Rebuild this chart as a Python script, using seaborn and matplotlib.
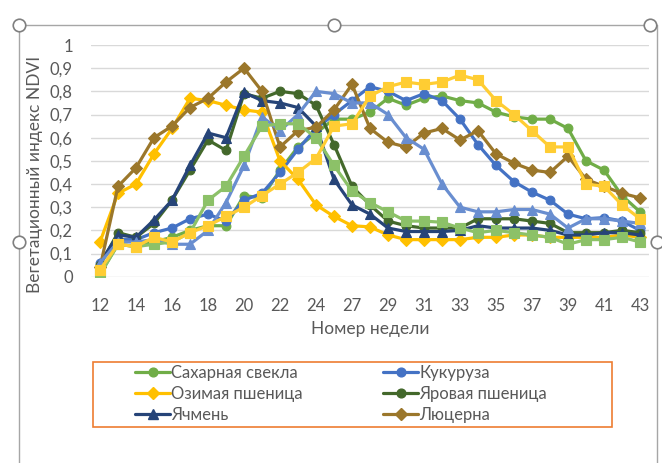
import matplotlib
matplotlib.use("Agg")
import matplotlib.pyplot as plt
import matplotlib.patches as mpatches
from matplotlib.lines import Line2D
import seaborn as sns
import pandas as pd

weeks = [12, 13, 14, 15, 16, 17, 18, 19, 20, 21, 22, 23, 24, 25, 27, 28, 29, 30,
         31, 32, 33, 34, 35, 36, 37, 38, 39, 40, 41, 42, 43]

sugar_beet = [0.01, 0.14, 0.13, 0.15, 0.17, 0.20, 0.22, 0.22, 0.35, 0.34, 0.46, 0.56, 0.62, 0.68, 0.68, 0.71,
              0.77, 0.74, 0.77, 0.78, 0.76, 0.75, 0.71, 0.69, 0.68, 0.68, 0.64, 0.50, 0.46, 0.35, 0.28]
corn = [0.06, 0.16, 0.16, 0.19, 0.21, 0.25, 0.27, 0.24, 0.33, 0.36, 0.45, 0.55, 0.64, 0.70, 0.76, 0.82,
        0.80, 0.76, 0.79, 0.76, 0.68, 0.57, 0.48, 0.41, 0.365, 0.33, 0.27, 0.25, 0.255, 0.24, 0.20]
winter_wheat = [0.15, 0.36, 0.40, 0.53, 0.64, 0.77, 0.76, 0.74, 0.72, 0.71, 0.50, 0.42, 0.31, 0.26, 0.22, 0.215,
                0.18, 0.16, 0.16, 0.16, 0.16, 0.17, 0.17, 0.18, 0.18, 0.17, 0.17, 0.17, 0.17, 0.18, 0.17]
spring_wheat = [0.05, 0.19, 0.17, 0.23, 0.33, 0.46, 0.59, 0.545, 0.79, 0.77, 0.80, 0.79, 0.74, 0.57, 0.39, 0.31,
                0.24, 0.22, 0.21, 0.21, 0.21, 0.25, 0.25, 0.25, 0.24, 0.23, 0.19, 0.19, 0.19, 0.20, 0.19]
barley = [0.06, 0.18, 0.17, 0.245, 0.33, 0.48, 0.62, 0.60, 0.795, 0.76, 0.75, 0.73, 0.65, 0.42, 0.31, 0.27,
          0.21, 0.195, 0.195, 0.195, 0.20, 0.22, 0.21, 0.21, 0.21, 0.20, 0.18, 0.18, 0.19, 0.19, 0.18]
alfalfa = [0.04, 0.39, 0.47, 0.60, 0.65, 0.73, 0.77, 0.84, 0.90, 0.80, 0.56, 0.63, 0.645, 0.72, 0.83, 0.64,
           0.58, 0.56, 0.62, 0.64, 0.59, 0.63, 0.53, 0.49, 0.46, 0.45, 0.52, 0.42, 0.39, 0.36, 0.34]
series7 = [0.06, 0.15, 0.15, 0.16, 0.14, 0.14, 0.20, 0.32, 0.48, 0.69, 0.63, 0.70, 0.80, 0.79, 0.75, 0.75,
           0.70, 0.60, 0.55, 0.40, 0.30, 0.28, 0.28, 0.29, 0.29, 0.27, 0.21, 0.25, 0.25, 0.24, 0.23]
series8 = [0.01, 0.14, 0.13, 0.14, 0.15, 0.19, 0.33, 0.39, 0.52, 0.65, 0.66, 0.66, 0.60, 0.48, 0.37, 0.32,
           0.28, 0.24, 0.24, 0.235, 0.21, 0.19, 0.20, 0.19, 0.18, 0.17, 0.14, 0.16, 0.16, 0.17, 0.15]
series9 = [0.03, 0.14, 0.13, 0.17, 0.15, 0.19, 0.22, 0.26, 0.30, 0.35, 0.40, 0.45, 0.51, 0.65, 0.66, 0.78,
           0.82, 0.84, 0.83, 0.84, 0.87, 0.85, 0.76, 0.70, 0.63, 0.56, 0.56, 0.40, 0.39, 0.31, 0.25]

names = ["Сахарная свекла", "Кукуруза", "Озимая пшеница", "Яровая пшеница", "Ячмень", "Люцерна",
         "Ряд 7", "Ряд 8", "Ряд 9"]
values = [sugar_beet, corn, winter_wheat, spring_wheat, barley, alfalfa, series7, series8, series9]
colors = ["#70AD47", "#4472C4", "#FFC000", "#43682B", "#264478", "#9B772B", "#698ED0", "#8CC168", "#FFCD33"]
markers = ["o", "o", "D", "o", "^", "D", "^", "s", "s"]
msizes = [6.3, 6.3, 6, 6.3, 7, 6, 7, 7, 7]

sns.set_theme(style="white")
plt.rcParams["font.family"] = ["Lato", "DejaVu Sans"]

fig = plt.figure(figsize=(6.62, 4.63), dpi=100)
W, H = 662, 463
ax = fig.add_axes([91 / W, (H - 276.7) / H, 558 / W, (276.7 - 45) / H])

idx = list(range(len(weeks)))
for name, vals, c, m, ms in zip(names, values, colors, markers, msizes):
    df = pd.DataFrame({"i": idx, "v": vals})
    sns.lineplot(data=df, x="i", y="v", ax=ax, color=c, marker=m, markersize=ms,
                 markeredgecolor=c, markeredgewidth=0.8, linewidth=2.3, label=name, legend=False)

ax.set_xlim(-0.5, len(weeks) - 0.5)
ax.set_ylim(0, 1)
yt = [i / 10 for i in range(11)]
ax.set_yticks(yt)
ax.set_yticklabels(["0" if v == 0 else ("1" if v == 1 else f"{v:.1f}".replace(".", ",")) for v in yt])
ax.set_xticks(idx[::2])
ax.set_xticklabels([str(weeks[i]) for i in idx[::2]])
ax.grid(axis="y", color="#D9D9D9", linewidth=1)
ax.set_axisbelow(True)
for s in ax.spines.values():
    s.set_visible(False)
ax.tick_params(axis="both", length=0, labelsize=12, colors="#595959")
ax.tick_params(axis="y", pad=13)
ax.tick_params(axis="x", pad=15)
ax.set_xlabel("Номер недели", fontsize=12.5, color="#595959")
ax.set_ylabel("Вегетационный индекс NDVI", fontsize=12.5, color="#595959")
ax.xaxis.set_label_coords(0.5, (276.7 - 329) / 231.7, transform=ax.transAxes)
ax.yaxis.set_label_coords((35 - 91) / 558, (276.7 - 174) / 231.7, transform=ax.transAxes)
ax.xaxis.label.set_va("center")
ax.yaxis.label.set_va("center")

# legend (first six series)
order = [0, 2, 4, 1, 3, 5]
handles = [Line2D([0], [0], color=colors[k], marker=markers[k], markersize=msizes[k],
                  markeredgecolor=colors[k], linewidth=2.3) for k in order]
labels = [names[k] for k in order]
box = mpatches.Rectangle((93 / W, (H - 427) / H), 519 / W, 65 / H, transform=fig.transFigure,
                         fill=False, edgecolor="#ED7D31", linewidth=1.2)
fig.patches.append(box)
fig.legend(handles, labels, ncol=2, frameon=False, fontsize=12, labelcolor="#595959",
           loc="upper left", bbox_to_anchor=(135 / W, (H - 365) / H), borderpad=0, borderaxespad=0,
           handlelength=2.1, handletextpad=0.05, columnspacing=4.85, labelspacing=0.3)

# chart-area selection frame
fc = "#A6A6A6"
fig.add_artist(Line2D([19 / W, 19 / W], [0, (H - 25) / H], color=fc, linewidth=1, transform=fig.transFigure))
fig.add_artist(Line2D([19 / W, 657 / W], [(H - 25) / H, (H - 25) / H], color=fc, linewidth=1, transform=fig.transFigure))
fig.add_artist(Line2D([657 / W, 657 / W], [0, (H - 25) / H], color=fc, linewidth=1, transform=fig.transFigure))
for (px, py) in [(19, 25), (334, 25), (650, 25), (19, 242), (657, 242)]:
    fig.add_artist(Line2D([px / W], [(H - py) / H], marker="o", markersize=9, markerfacecolor="white",
                          markeredgecolor="#7F7F7F", markeredgewidth=1.2, transform=fig.transFigure))

fig.savefig("out.png", dpi=100)
